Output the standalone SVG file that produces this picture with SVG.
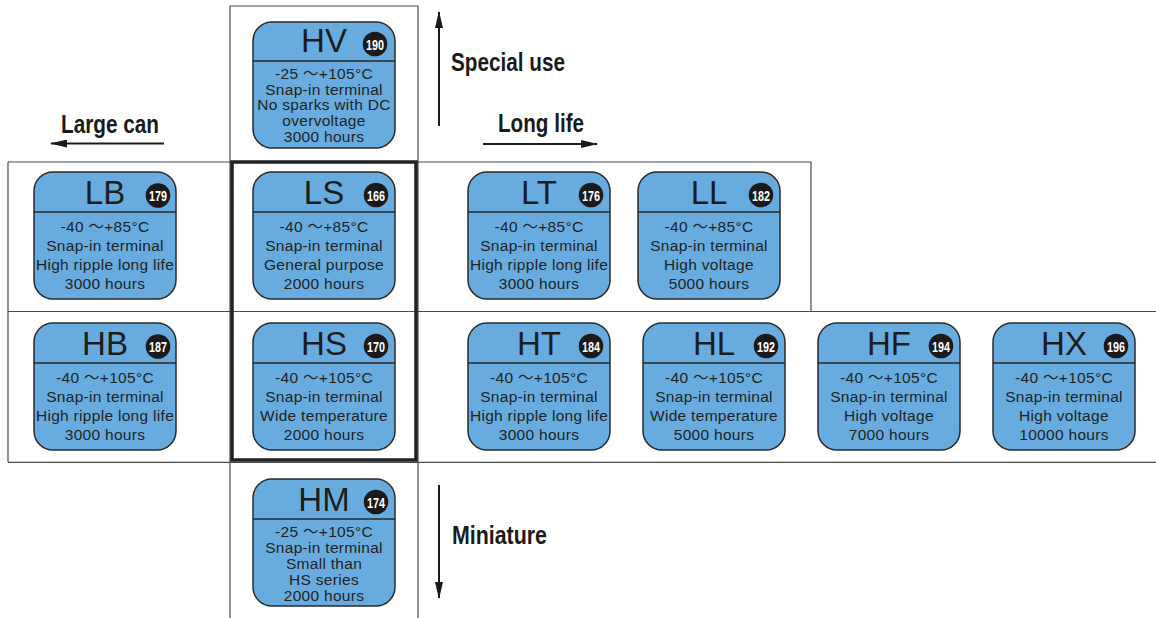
<svg xmlns="http://www.w3.org/2000/svg" width="1156" height="618" viewBox="0 0 1156 618">
<style>
.grid{fill:none;stroke:#4a4a4a;stroke-width:1.2}
.thick{fill:none;stroke:#222;stroke-width:3.5}
.box{fill:#68acdf;stroke:#2a2a2a;stroke-width:1.5}
.div{stroke:#2a2a2a;stroke-width:1.3}
.title{font-family:"Liberation Sans",Arial,sans-serif;font-size:33px;fill:#1c1c1c;text-anchor:middle}
.badge{fill:#1a1a1a}
.num{font-family:"Liberation Sans",Arial,sans-serif;font-weight:bold;font-size:15.5px;fill:#fff;text-anchor:middle}
.body{font-family:"Liberation Sans",Arial,"Noto Sans CJK JP",sans-serif;font-size:15.5px;letter-spacing:0.3px;fill:#222;text-anchor:middle}
.lbl{font-family:"Liberation Sans",Arial,sans-serif;font-weight:bold;font-size:25px;fill:#1a1a1a}
.arr{stroke:#1a1a1a;stroke-width:2;fill:none;marker-end:url(#ah)}
</style>
<defs>
<marker id="ah" markerUnits="userSpaceOnUse" markerWidth="17" markerHeight="8" refX="16" refY="4" orient="auto">
<path d="M0,0 L17,4 L0,8 z" fill="#1a1a1a"/>
</marker>
</defs>
<rect width="1156" height="618" fill="#fff"/>
<g id="grid">
<path class="grid" d="M230,618 V6 H418 V618"/>
<path class="grid" d="M8,162 H811 V311"/>
<path class="grid" d="M8,162 V462"/>
<path class="grid" d="M8,311.5 H1156"/>
<path class="grid" d="M8,462.3 H1156"/>
<rect class="thick" x="232" y="162" width="184" height="298"/>
</g>
<g id="connectors">
<line class="arr" x1="439" y1="126" x2="439" y2="12"/>
<line class="arr" x1="483" y1="144" x2="597" y2="144"/>
<line class="arr" x1="164" y1="143.5" x2="51" y2="143.5"/>
<line class="arr" x1="439" y1="485" x2="439" y2="598"/>
</g>
<g id="labels">
<text class="lbl" x="451" y="71" textLength="114" lengthAdjust="spacingAndGlyphs">Special use</text>
<text class="lbl" x="498" y="132" textLength="86" lengthAdjust="spacingAndGlyphs">Long life</text>
<text class="lbl" x="61" y="133" textLength="98" lengthAdjust="spacingAndGlyphs">Large can</text>
<text class="lbl" x="452" y="544" textLength="95" lengthAdjust="spacingAndGlyphs">Miniature</text>
</g>
<g id="node-HV" transform="translate(253,22)">
<rect class="box" width="142" height="126" rx="19"/>
<line class="div" x1="0" y1="39" x2="142" y2="39"/>
<text class="title" x="71" y="30">HV</text>
<circle class="badge" cx="122" cy="22" r="12.3"/>
<text class="num" x="122" y="27.5" textLength="18" lengthAdjust="spacingAndGlyphs">190</text>
<text class="body" x="71" y="57">-25 ～+105°C</text>
<text class="body" x="71" y="72.5">Snap-in terminal</text>
<text class="body" x="71" y="88">No sparks with DC</text>
<text class="body" x="71" y="103.5">overvoltage</text>
<text class="body" x="71" y="119.5">3000 hours</text>
</g>
<g id="node-LB" transform="translate(34,172)">
<rect class="box" width="142" height="127" rx="19"/>
<line class="div" x1="0" y1="40" x2="142" y2="40"/>
<text class="title" x="71" y="32">LB</text>
<circle class="badge" cx="124" cy="23.5" r="12.3"/>
<text class="num" x="124" y="29" textLength="18" lengthAdjust="spacingAndGlyphs">179</text>
<text class="body" x="71" y="59.5">-40 ～+85°C</text>
<text class="body" x="71" y="78.5">Snap-in terminal</text>
<text class="body" x="71" y="97.5">High ripple long life</text>
<text class="body" x="71" y="116.5">3000 hours</text>
</g>
<g id="node-LS" transform="translate(253,172)">
<rect class="box" width="142" height="127" rx="19"/>
<line class="div" x1="0" y1="40" x2="142" y2="40"/>
<text class="title" x="71" y="32">LS</text>
<circle class="badge" cx="123" cy="23" r="12.3"/>
<text class="num" x="123" y="28.5" textLength="18" lengthAdjust="spacingAndGlyphs">166</text>
<text class="body" x="71" y="59.5">-40 ～+85°C</text>
<text class="body" x="71" y="78.5">Snap-in terminal</text>
<text class="body" x="71" y="97.5">General purpose</text>
<text class="body" x="71" y="116.5">2000 hours</text>
</g>
<g id="node-LT" transform="translate(468,172)">
<rect class="box" width="142" height="127" rx="19"/>
<line class="div" x1="0" y1="40" x2="142" y2="40"/>
<text class="title" x="71" y="32">LT</text>
<circle class="badge" cx="123" cy="23" r="12.3"/>
<text class="num" x="123" y="28.5" textLength="18" lengthAdjust="spacingAndGlyphs">176</text>
<text class="body" x="71" y="59.5">-40 ～+85°C</text>
<text class="body" x="71" y="78.5">Snap-in terminal</text>
<text class="body" x="71" y="97.5">High ripple long life</text>
<text class="body" x="71" y="116.5">3000 hours</text>
</g>
<g id="node-LL" transform="translate(638,172)">
<rect class="box" width="142" height="127" rx="19"/>
<line class="div" x1="0" y1="40" x2="142" y2="40"/>
<text class="title" x="71" y="32">LL</text>
<circle class="badge" cx="123" cy="23" r="12.3"/>
<text class="num" x="123" y="28.5" textLength="18" lengthAdjust="spacingAndGlyphs">182</text>
<text class="body" x="71" y="59.5">-40 ～+85°C</text>
<text class="body" x="71" y="78.5">Snap-in terminal</text>
<text class="body" x="71" y="97.5">High voltage</text>
<text class="body" x="71" y="116.5">5000 hours</text>
</g>
<g id="node-HB" transform="translate(34,323)">
<rect class="box" width="142" height="127" rx="19"/>
<line class="div" x1="0" y1="40" x2="142" y2="40"/>
<text class="title" x="71" y="32">HB</text>
<circle class="badge" cx="124" cy="23.5" r="12.3"/>
<text class="num" x="124" y="29" textLength="18" lengthAdjust="spacingAndGlyphs">187</text>
<text class="body" x="71" y="59.5">-40 ～+105°C</text>
<text class="body" x="71" y="78.5">Snap-in terminal</text>
<text class="body" x="71" y="97.5">High ripple long life</text>
<text class="body" x="71" y="116.5">3000 hours</text>
</g>
<g id="node-HS" transform="translate(253,323)">
<rect class="box" width="142" height="127" rx="19"/>
<line class="div" x1="0" y1="40" x2="142" y2="40"/>
<text class="title" x="71" y="32">HS</text>
<circle class="badge" cx="123" cy="23" r="12.3"/>
<text class="num" x="123" y="28.5" textLength="18" lengthAdjust="spacingAndGlyphs">170</text>
<text class="body" x="71" y="59.5">-40 ～+105°C</text>
<text class="body" x="71" y="78.5">Snap-in terminal</text>
<text class="body" x="71" y="97.5">Wide temperature</text>
<text class="body" x="71" y="116.5">2000 hours</text>
</g>
<g id="node-HT" transform="translate(468,323)">
<rect class="box" width="142" height="127" rx="19"/>
<line class="div" x1="0" y1="40" x2="142" y2="40"/>
<text class="title" x="71" y="32">HT</text>
<circle class="badge" cx="123" cy="23" r="12.3"/>
<text class="num" x="123" y="28.5" textLength="18" lengthAdjust="spacingAndGlyphs">184</text>
<text class="body" x="71" y="59.5">-40 ～+105°C</text>
<text class="body" x="71" y="78.5">Snap-in terminal</text>
<text class="body" x="71" y="97.5">High ripple long life</text>
<text class="body" x="71" y="116.5">3000 hours</text>
</g>
<g id="node-HL" transform="translate(643,323)">
<rect class="box" width="142" height="127" rx="19"/>
<line class="div" x1="0" y1="40" x2="142" y2="40"/>
<text class="title" x="71" y="32">HL</text>
<circle class="badge" cx="123" cy="23" r="12.3"/>
<text class="num" x="123" y="28.5" textLength="18" lengthAdjust="spacingAndGlyphs">192</text>
<text class="body" x="71" y="59.5">-40 ～+105°C</text>
<text class="body" x="71" y="78.5">Snap-in terminal</text>
<text class="body" x="71" y="97.5">Wide temperature</text>
<text class="body" x="71" y="116.5">5000 hours</text>
</g>
<g id="node-HF" transform="translate(818,323)">
<rect class="box" width="142" height="127" rx="19"/>
<line class="div" x1="0" y1="40" x2="142" y2="40"/>
<text class="title" x="71" y="32">HF</text>
<circle class="badge" cx="123" cy="23" r="12.3"/>
<text class="num" x="123" y="28.5" textLength="18" lengthAdjust="spacingAndGlyphs">194</text>
<text class="body" x="71" y="59.5">-40 ～+105°C</text>
<text class="body" x="71" y="78.5">Snap-in terminal</text>
<text class="body" x="71" y="97.5">High voltage</text>
<text class="body" x="71" y="116.5">7000 hours</text>
</g>
<g id="node-HX" transform="translate(993,323)">
<rect class="box" width="142" height="127" rx="19"/>
<line class="div" x1="0" y1="40" x2="142" y2="40"/>
<text class="title" x="71" y="32">HX</text>
<circle class="badge" cx="123" cy="23" r="12.3"/>
<text class="num" x="123" y="28.5" textLength="18" lengthAdjust="spacingAndGlyphs">196</text>
<text class="body" x="71" y="59.5">-40 ～+105°C</text>
<text class="body" x="71" y="78.5">Snap-in terminal</text>
<text class="body" x="71" y="97.5">High voltage</text>
<text class="body" x="71" y="116.5">10000 hours</text>
</g>
<g id="node-HM" transform="translate(253,479)">
<rect class="box" width="142" height="127" rx="19"/>
<line class="div" x1="0" y1="40" x2="142" y2="40"/>
<text class="title" x="71" y="32">HM</text>
<circle class="badge" cx="123" cy="23" r="12.3"/>
<text class="num" x="123" y="28.5" textLength="18" lengthAdjust="spacingAndGlyphs">174</text>
<text class="body" x="71" y="57.5">-25 ～+105°C</text>
<text class="body" x="71" y="73.5">Snap-in terminal</text>
<text class="body" x="71" y="89.5">Small than</text>
<text class="body" x="71" y="105.5">HS series</text>
<text class="body" x="71" y="121.5">2000 hours</text>
</g>
</svg>
